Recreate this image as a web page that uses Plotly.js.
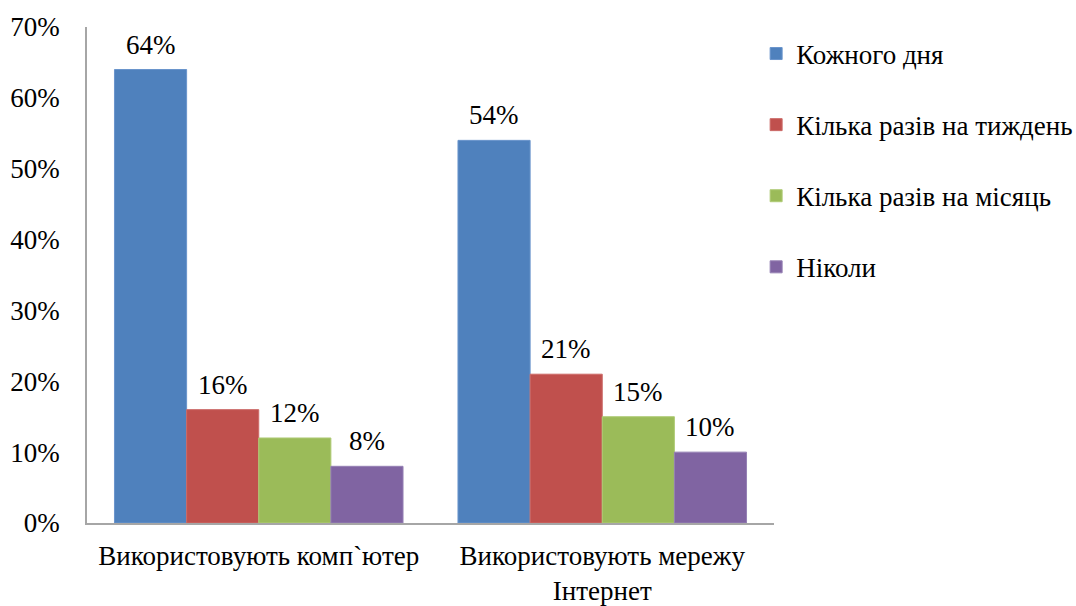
<!DOCTYPE html>
<html>
<head>
<meta charset="utf-8">
<script src="https://cdn.plot.ly/plotly-3.0.1.min.js"></script>
<style>
html,body{margin:0;padding:0;background:#fff;font-family:serif;}
#chart{width:1076px;height:606px;}
</style>
</head>
<body>
<div id="chart"></div>
<script>
const categories = ["Використовують комп`ютер", "Використовують мережу<br>Інтернет"];
const seriesNames = ["Кожного дня", "Кілька разів на тиждень", "Кілька разів на місяць", "Ніколи"];
const dailyValues = [0.64, 0.54];
const weeklyValues = [0.16, 0.21];
const monthlyValues = [0.12, 0.15];
const neverValues = [0.08, 0.10];
const yTickValues = [0, 0.1, 0.2, 0.3, 0.4, 0.5, 0.6, 0.7];
const yTickLabels = ["0%", "10%", "20%", "30%", "40%", "50%", "60%", "70%"];

const colors = ["#4F81BD", "#C0504D", "#9BBB59", "#8064A2"];
const borders = ["#6A95CC", "#CC6B68", "#AFCB76", "#9580B4"];
const seriesValues = [dailyValues, weeklyValues, monthlyValues, neverValues];
const FAMILY = "serif";
const FSIZE = 27;
const BARGAP = 0.16;
const barW = (1 - BARGAP) / seriesValues.length;

const traces = seriesValues.map((vals, i) => ({
  type: "bar",
  name: seriesNames[i],
  x: categories,
  y: vals,
  legendgroup: "g" + i,
  marker: {color: colors[i], line: {color: borders[i], width: 1}},
  hoverinfo: "skip"
}));

const annotations = [];
seriesValues.forEach((vals, i) => {
  vals.forEach((v, j) => {
    annotations.push({
      xref: "x", yref: "y",
      x: j + (i - (seriesValues.length - 1) / 2) * barW,
      y: v,
      text: Math.round(v * 100) + "%",
      showarrow: false,
      xanchor: "center", yanchor: "middle",
      yshift: 25,
      font: {family: FAMILY, size: FSIZE, color: "#000"}
    });
  });
});

const layout = {
  width: 1076,
  height: 606,
  paper_bgcolor: "#fff",
  plot_bgcolor: "#fff",
  margin: {l: 87, r: 302, t: 27, b: 83, autoexpand: false},
  barmode: "group",
  bargap: BARGAP,
  bargroupgap: 0,
  font: {family: FAMILY, size: FSIZE, color: "#000"},
  showlegend: true,
  annotations: annotations,
  legend: {
    x: 0.974, xanchor: "left",
    y: 0.995, yanchor: "top",
    font: {family: FAMILY, size: FSIZE, color: "#000"},
    tracegroupgap: 33,
    traceorder: "grouped",
    itemwidth: 30,
    bgcolor: "rgba(0,0,0,0)"
  },
  xaxis: {
    type: "category",
    showline: true,
    linecolor: "#A6A6A6",
    linewidth: 1.5,
    showgrid: false,
    zeroline: false,
    ticks: "",
    tickfont: {family: FAMILY, size: FSIZE, color: "#000"},
    ticklabelstandoff: 8
  },
  yaxis: {
    range: [0, 0.7],
    tickvals: yTickValues,
    ticktext: yTickLabels,
    showline: true,
    linecolor: "#A6A6A6",
    linewidth: 1.5,
    showgrid: false,
    zeroline: false,
    ticks: "",
    tickfont: {family: FAMILY, size: FSIZE, color: "#000"},
    ticklabelstandoff: 20
  }
};

Plotly.newPlot("chart", traces, layout, {displayModeBar: false});
</script>
</body>
</html>
